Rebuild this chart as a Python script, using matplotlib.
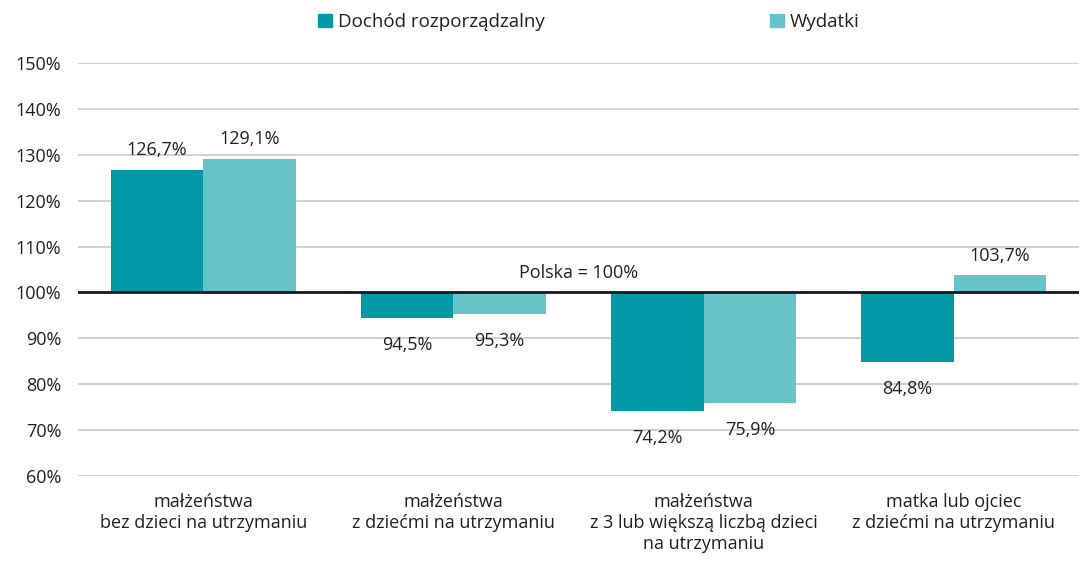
import numpy as np
import matplotlib
matplotlib.use("Agg")
import matplotlib.pyplot as plt
from matplotlib.patches import Patch

plt.rcParams['font.family'] = ['Open Sans', 'DejaVu Sans']

categories = [
    "małżeństwa\nbez dzieci na utrzymaniu",
    "małżeństwa\nz dziećmi na utrzymaniu",
    "małżeństwa\nz 3 lub większą liczbą dzieci\nna utrzymaniu",
    "matka lub ojciec\nz dziećmi na utrzymaniu",
]
dochod = [126.7, 94.5, 74.2, 84.8]
wydatki = [129.1, 95.3, 75.9, 103.7]
series_names = ["Dochód rozporządzalny", "Wydatki"]
yticks = [60, 70, 80, 90, 100, 110, 120, 130, 140, 150]

DARK = "#009aa6"
LIGHT = "#66c4c9"
TXT = "#231f20"
BASE = 100.0
FS = 13

fig = plt.figure(figsize=(10.79, 5.62), dpi=100)
ax = fig.add_axes([78/1079, 1 - 476/562, 1 - 78/1079, (476 - 63)/562])

x = np.arange(len(categories))
w = 0.37
for vals, off, col in [(dochod, -w/2, DARK), (wydatki, w/2, LIGHT)]:
    h = [v - BASE for v in vals]
    ax.bar(x + off, h, width=w, bottom=BASE, color=col, zorder=3)
    for xi, v in zip(x + off, vals):
        lab = f"{v:.1f}%".replace(".", ",")
        if v >= BASE:
            ax.text(xi, v + 2.3, lab, ha="center", va="bottom", fontsize=FS, color=TXT)
        else:
            ax.text(xi, v - 3.9, lab, ha="center", va="top", fontsize=FS, color=TXT)

ax.axhline(BASE, color="#1a1a1a", lw=2, zorder=4)
ax.text(1.5, 102.3, "Polska = 100%", ha="center", va="bottom", fontsize=FS, color=TXT)

ax.set_ylim(60, 150)
ax.set_xlim(-0.5, 3.5)
ax.set_yticks(yticks)
ax.set_yticklabels([f"{t}%" for t in yticks], fontsize=FS, color=TXT)
ax.yaxis.grid(True, color="#c8c8c8", lw=1.2, zorder=0)
ax.tick_params(axis="y", length=0, pad=12)
ax.set_xticks(x)
ax.set_xticklabels(categories, fontsize=FS, color=TXT, linespacing=1.22)
ax.tick_params(axis="x", length=0, pad=12)
for s in ax.spines.values():
    s.set_visible(False)

for name, col, xpos in [(series_names[0], DARK, 318/1079), (series_names[1], LIGHT, 770/1079)]:
    fig.legend([Patch(color=col)], [name], loc="center left", bbox_to_anchor=(xpos, 0.961),
               frameon=False, fontsize=FS + 0.5, handlelength=0.75, handleheight=0.75,
               handletextpad=0.3, borderpad=0, borderaxespad=0, labelcolor=TXT)

fig.savefig("out.png", dpi=100)
